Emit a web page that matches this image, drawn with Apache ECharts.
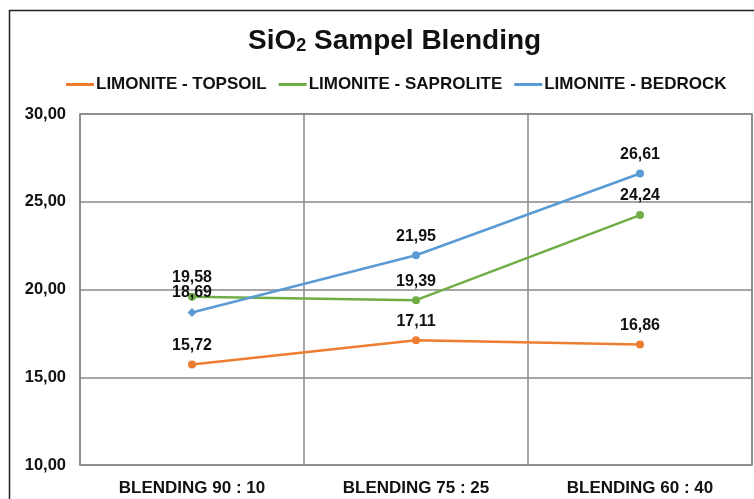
<!DOCTYPE html>
<html>
<head>
<meta charset="utf-8">
<script src="https://cdn.jsdelivr.net/npm/echarts@6/dist/echarts.min.js"></script>
<style>
html,body{margin:0;padding:0;background:#fff;}
#chart{width:754px;height:499px;}
</style>
</head>
<body>
<div id="chart"></div>
<script>
var categories = ['BLENDING 90 : 10', 'BLENDING 75 : 25', 'BLENDING 60 : 40'];
var seriesNames = ['LIMONITE - TOPSOIL', 'LIMONITE - SAPROLITE', 'LIMONITE - BEDROCK'];
var topsoil = [15.72, 17.11, 16.86];
var saprolite = [19.58, 19.39, 24.24];
var bedrock = [18.69, 21.95, 26.61];
var colors = ['#ED7D31', '#70AD47', '#5B9BD5'];

function fmt(v){
    return Number(v).toFixed(2).replace('.', ',');
}

var chart = echarts.init(document.getElementById('chart'));

function makeSeries(name, data, color){
    return {
        name: name,
        type: 'line',
        data: data,
        symbol: 'circle',
        symbolSize: 8,
        lineStyle: {color: color, width: 2.5},
        itemStyle: {color: color},
        label: {
            show: true,
            position: 'top',
            distance: 7,
            color: '#111',
            fontFamily: 'Liberation Sans',
            fontWeight: 'bold',
            fontSize: 16,
            formatter: function(p){ return fmt(p.value); }
        }
    };
}

var bedrockSeries = makeSeries(seriesNames[2], bedrock.map(function(v, i){
    // first point drawn as a small diamond in the reference
    return i === 0 ? {value: v, symbol: 'diamond', symbolSize: 9} : v;
}), colors[2]);

chart.setOption({
    animation: false,
    backgroundColor: '#fff',
    title: {
        text: '{a|SiO}{b|2}{a| Sampel Blending}',
        left: 243,
        top: 22,
        textStyle: {
            rich: {
                a: {fontFamily: 'Liberation Sans', fontWeight: 'bold', fontSize: 28, color: '#111'},
                b: {fontFamily: 'Liberation Sans', fontWeight: 'bold', fontSize: 18, color: '#111', verticalAlign: 'bottom', padding: [10, 0, 0, 0]}
            }
        }
    },
    legend: {
        top: 71,
        left: 61,
        itemWidth: 28,
        itemHeight: 3,
        itemGap: 12,
        icon: 'rect',
        data: seriesNames,
        textStyle: {fontFamily: 'Liberation Sans', fontWeight: 'bold', fontSize: 17, color: '#111', padding: [0, 0, 0, -3]}
    },
    grid: {
        left: 80,
        right: 2,
        top: 114,
        bottom: 34,
        show: true,
        borderColor: '#888',
        borderWidth: 1.5
    },
    xAxis: {
        type: 'category',
        data: categories,
        boundaryGap: true,
        axisLine: {show: false},
        axisTick: {show: false},
        splitLine: {show: true, lineStyle: {color: '#888', width: 1.5}},
        axisLabel: {
            margin: 15,
            color: '#111',
            fontFamily: 'Liberation Sans',
            fontWeight: 'bold',
            fontSize: 17
        }
    },
    yAxis: {
        type: 'value',
        min: 10,
        max: 30,
        interval: 5,
        axisLine: {show: false},
        axisTick: {show: false},
        splitLine: {lineStyle: {color: '#888', width: 1.5}},
        axisLabel: {
            margin: 14,
            color: '#111',
            fontFamily: 'Liberation Sans',
            fontWeight: 'bold',
            fontSize: 16.5,
            formatter: fmt
        }
    },
    graphic: [{
        type: 'rect',
        shape: {x: 9.5, y: 10.5, width: 800, height: 600},
        style: {fill: 'none', stroke: '#222', lineWidth: 1.5},
        silent: true
    }],
    series: [
        makeSeries(seriesNames[0], topsoil, colors[0]),
        makeSeries(seriesNames[1], saprolite, colors[1]),
        bedrockSeries
    ]
});
</script>
</body>
</html>
